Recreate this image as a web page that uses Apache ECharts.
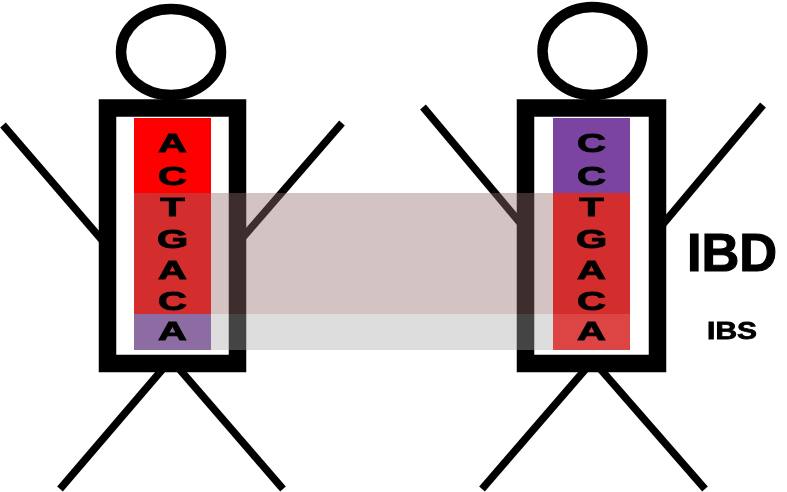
<!DOCTYPE html>
<html><head><meta charset="utf-8">
<script src="https://cdn.jsdelivr.net/npm/echarts@6/dist/echarts.min.js"></script>
<style>html,body{margin:0;padding:0;background:#fff}#c{width:787px;height:492px}</style>
</head><body><div id="c"></div><script>
// ---------- DATA ----------
const figures = ['Person 1', 'Person 2'];
const seqLeft = ['A', 'C', 'T', 'G', 'A', 'C', 'A'];
const seqRight = ['C', 'C', 'T', 'G', 'A', 'C', 'A'];
const originLeft = ['red', 'red', 'red', 'red', 'red', 'red', 'purple'];
const originRight = ['purple', 'purple', 'red', 'red', 'red', 'red', 'red'];
const segmentLabels = ['IBD', 'IBS'];
const segmentStart = [2, 6];
const segmentEnd = [5, 6];

// ---------- LAYOUT / STYLE ----------
const sequences = [seqLeft, seqRight];
const origins = [originLeft, originRight];
const cellEdges = [118, 160, 193, 223, 255, 286, 314, 350];
const letterY = [144, 177, 208, 239.5, 270.5, 301.5, 331.5];
const originColor = { red: '#ff0000', purple: '#7a44a0' };
const segColor = ['rgba(149,110,110,0.41)', 'rgba(170,170,170,0.40)'];
const segFont = [54, 23];
const segScale = [0.97, 1.3];
const segStroke = [1.2, 0.8];
const segLabelX = 732;
const bandX = [134, 630];
const layout = [
  { body: [107.5, 108, 130, 255.5], head: [171, 52, 50, 43], col: 134,
    limbs: [[3, 125, 108, 247], [342, 123, 238, 243], [167, 364, 60, 489], [175, 364, 283, 489]] },
  { body: [525.5, 108, 132, 255.5], head: [592.5, 51, 50, 44], col: 553,
    limbs: [[423, 107, 527, 231], [763, 105, 658, 230], [590, 364, 482, 489], [596, 364, 705, 489]] }
];
const colW = 77;

const chart = echarts.init(document.getElementById('c'), null, { renderer: 'canvas' });
const idx = figures.map((f, i) => [i]);

function P(api, x, y) { return api.coord([x, y]); }

const option = {
  animation: false,
  backgroundColor: '#ffffff',
  grid: { left: 0, right: 0, top: 0, bottom: 0 },
  xAxis: { type: 'value', min: 0, max: 787, show: false },
  yAxis: { type: 'value', min: 0, max: 492, inverse: true, show: false },
  series: [
    { // limbs
      type: 'custom', z: 1, data: idx, encode: { x: 0 },
      renderItem: function (params, api) {
        const L = layout[params.dataIndex];
        return { type: 'group', children: L.limbs.map(l => {
          const a = P(api, l[0], l[1]), b = P(api, l[2], l[3]);
          return { type: 'line', shape: { x1: a[0], y1: a[1], x2: b[0], y2: b[1] },
            style: { stroke: '#000', lineWidth: 7.5, lineCap: 'butt' } };
        }) };
      }
    },
    { // bodies + heads
      type: 'custom', z: 2, data: idx, encode: { x: 0 },
      renderItem: function (params, api) {
        const L = layout[params.dataIndex];
        const b0 = P(api, L.body[0], L.body[1]);
        const b1 = P(api, L.body[0] + L.body[2], L.body[1] + L.body[3]);
        const h = P(api, L.head[0], L.head[1]);
        return { type: 'group', children: [
          { type: 'rect', shape: { x: b0[0], y: b0[1], width: b1[0] - b0[0], height: b1[1] - b0[1] },
            style: { fill: '#fff', stroke: '#000', lineWidth: 17.5, lineJoin: 'miter' } },
          { type: 'ellipse', shape: { cx: h[0], cy: h[1], rx: L.head[2], ry: L.head[3] },
            style: { fill: '#fff', stroke: '#000', lineWidth: 10.5 } }
        ] };
      }
    },
    { // DNA columns
      type: 'custom', z: 3, data: idx, encode: { x: 0 },
      renderItem: function (params, api) {
        const i = params.dataIndex, L = layout[i], org = origins[i];
        const children = [];
        let s = 0;
        for (let k = 1; k <= org.length; k++) {
          if (k === org.length || org[k] !== org[s]) {
            const a = P(api, L.col, cellEdges[s]), b = P(api, L.col + colW, cellEdges[k]);
            children.push({ type: 'rect', shape: { x: a[0], y: a[1], width: b[0] - a[0], height: b[1] - a[1] },
              style: { fill: originColor[org[s]] } });
            s = k;
          }
        }
        return { type: 'group', children: children };
      }
    },
    { // shared segments
      type: 'custom', z: 4, data: segmentLabels.map((s, i) => [i]), encode: { x: 0 },
      renderItem: function (params, api) {
        const i = params.dataIndex;
        const a = P(api, bandX[0], cellEdges[segmentStart[i]]);
        const b = P(api, bandX[1], cellEdges[segmentEnd[i] + 1]);
        const c = P(api, segLabelX, (cellEdges[segmentStart[i]] + cellEdges[segmentEnd[i] + 1]) / 2);
        return { type: 'group', children: [
          { type: 'rect', shape: { x: a[0], y: a[1], width: b[0] - a[0], height: b[1] - a[1] },
            style: { fill: segColor[i] } },
          { type: 'text', x: c[0], y: c[1] + segFont[i] * 0.04, scaleX: segScale[i],
            style: { text: segmentLabels[i], x: 0, y: 0, align: 'center', verticalAlign: 'middle',
              fontFamily: 'Liberation Sans', fontWeight: 'bold', fontSize: segFont[i], fill: '#000',
              stroke: '#000', lineWidth: segStroke[i] } }
        ] };
      }
    },
    { // letters
      type: 'custom', z: 5, data: idx, encode: { x: 0 },
      renderItem: function (params, api) {
        const i = params.dataIndex, L = layout[i];
        return { type: 'group', children: sequences[i].map((ch, k) => {
          const p = P(api, L.col + colW / 2, letterY[k]);
          return { type: 'text', x: p[0], y: p[1] + 1.5, scaleX: 1.6,
            style: { text: ch, x: 0, y: 0, align: 'center', verticalAlign: 'middle',
              fontFamily: 'Liberation Sans', fontWeight: 'bold', fontSize: 25, fill: '#000',
              stroke: '#000', lineWidth: 0.9 } };
        }) };
      }
    }
  ]
};
chart.setOption(option);
</script></body></html>
